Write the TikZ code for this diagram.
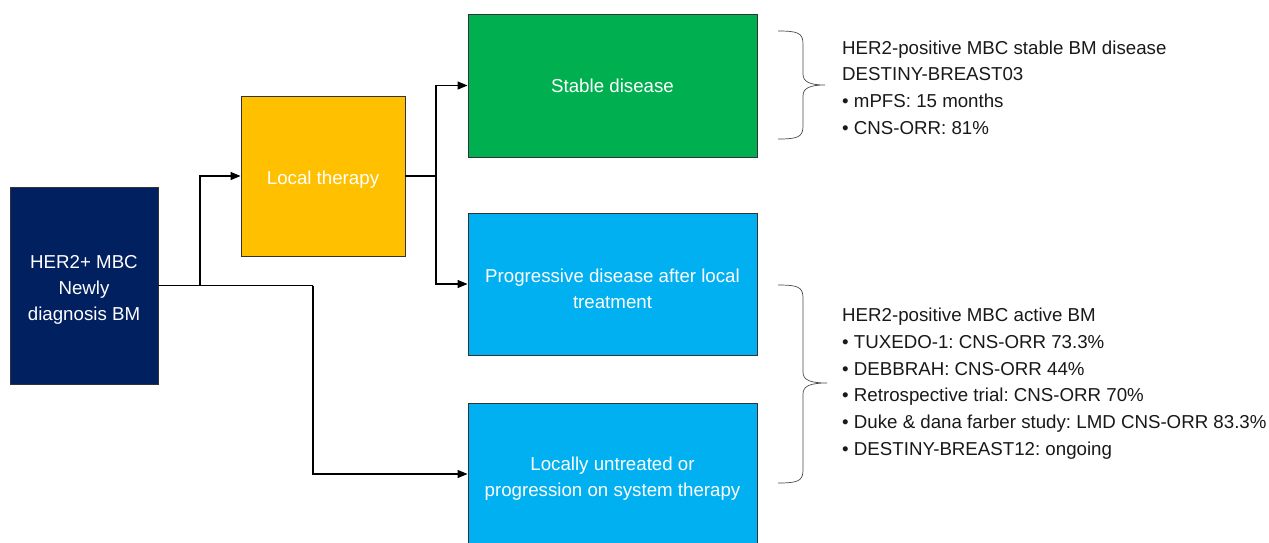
\documentclass[tikz,border=0pt]{standalone}
\usepackage{fontspec}
\setmainfont{Liberation Sans}
\frenchspacing
\usetikzlibrary{arrows.meta}
\definecolor{navyc}{HTML}{002060}
\definecolor{yellowc}{HTML}{FFC000}
\definecolor{greenc}{HTML}{00B050}
\definecolor{bluec}{HTML}{00B0F0}
\tikzset{
  boxnode/.style={draw=black!80, line width=0.9pt, inner sep=0pt},
  boxlabel/.style={text=white, align=center, inner sep=0pt,
    font=\fontsize{18.7}{26.3}\selectfont},
  conn/.style={draw=black, line width=1.2pt, -{Triangle[length=10pt,width=8pt]}},
  plainconn/.style={draw=black, line width=1.2pt},
  bracepath/.style={draw=black!70, line width=0.7pt},
  infotext/.style={align=left, anchor=north west, inner sep=0pt, text=black!90,
    font=\fontsize{18.7}{26.7}\selectfont}
}
\begin{document}
\begin{tikzpicture}[x=1pt,y=-1pt]
\useasboundingbox (0,0) rectangle (1269,542);
\fill[white] (0,0) rectangle (1269,542);

\node[boxnode, fill=navyc, minimum width=148pt, minimum height=197pt] (n) at (84,285.5) {};
\node[boxnode, fill=yellowc, minimum width=164pt, minimum height=160pt] (y) at (323,176) {};
\node[boxnode, fill=greenc, minimum width=289pt, minimum height=143pt] (g) at (612.5,85.5) {};
\node[boxnode, fill=bluec, minimum width=289pt, minimum height=142pt] (b1) at (612.5,284) {};
\node[boxnode, fill=bluec, minimum width=289pt, minimum height=142pt] (b2) at (612.5,474) {};

\node[boxlabel] (nl) at ([yshift=-4.5pt]n.center) {HER2+ MBC\\Newly\\diagnosis BM};
\node[boxlabel] (yl) at ([yshift=-3.5pt]y.center) {Local therapy};
\node[boxlabel] (gl) at ([yshift=0pt]g.center) {Stable disease};
\node[boxlabel] (b1l) at ([yshift=-4.5pt]b1.center) {Progressive disease after local\\treatment};
\node[boxlabel] (b2l) at ([yshift=-4.5pt]b2.center) {Locally untreated or\\progression on system therapy};

\coordinate (j1) at (200,285.5);
\coordinate (j2) at (313,285.5);
\coordinate (j3) at (436,176);

\draw[plainconn] (n.east) -- (j2);
\draw[conn] (j1) |- (y.west);
\draw[conn] (j2) |- (b2.west);
\draw[plainconn] (y.east) -- (j3);
\draw[conn] (j3) |- (g.west);
\draw[conn] (j3) |- (b1.west);

% braces
\draw[bracepath] (778,31) .. controls (798,31) and (803,33) .. (803,44)
  -- (803,74) .. controls (803,82) and (810,85) .. (825,85)
  .. controls (810,85) and (803,88) .. (803,96)
  -- (803,126) .. controls (803,137) and (798,139) .. (778,139);
\draw[bracepath] (778,285) .. controls (798,285) and (803,287) .. (803,298)
  -- (803,372) .. controls (803,380) and (810,383) .. (827,383)
  .. controls (810,383) and (803,386) .. (803,394)
  -- (803,470) .. controls (803,481) and (798,483) .. (778,483);

\node[infotext] (t1) at (842,40.5) {HER2-positive MBC stable BM disease\\DESTINY-BREAST03\\%
  \textbullet\ mPFS: 15 months\\\textbullet\ CNS-ORR: 81\%};
\node[infotext] (t2) at (842,308) {HER2-positive MBC active BM\\%
  \textbullet\ TUXEDO-1: CNS-ORR 73.3\%\\%
  \textbullet\ DEBBRAH: CNS-ORR 44\%\\%
  \textbullet\ Retrospective trial: CNS-ORR 70\%\\%
  \textbullet\ Duke \& dana farber study: LMD CNS-ORR 83.3\%\\%
  \textbullet\ DESTINY-BREAST12: ongoing};
\end{tikzpicture}
\end{document}
